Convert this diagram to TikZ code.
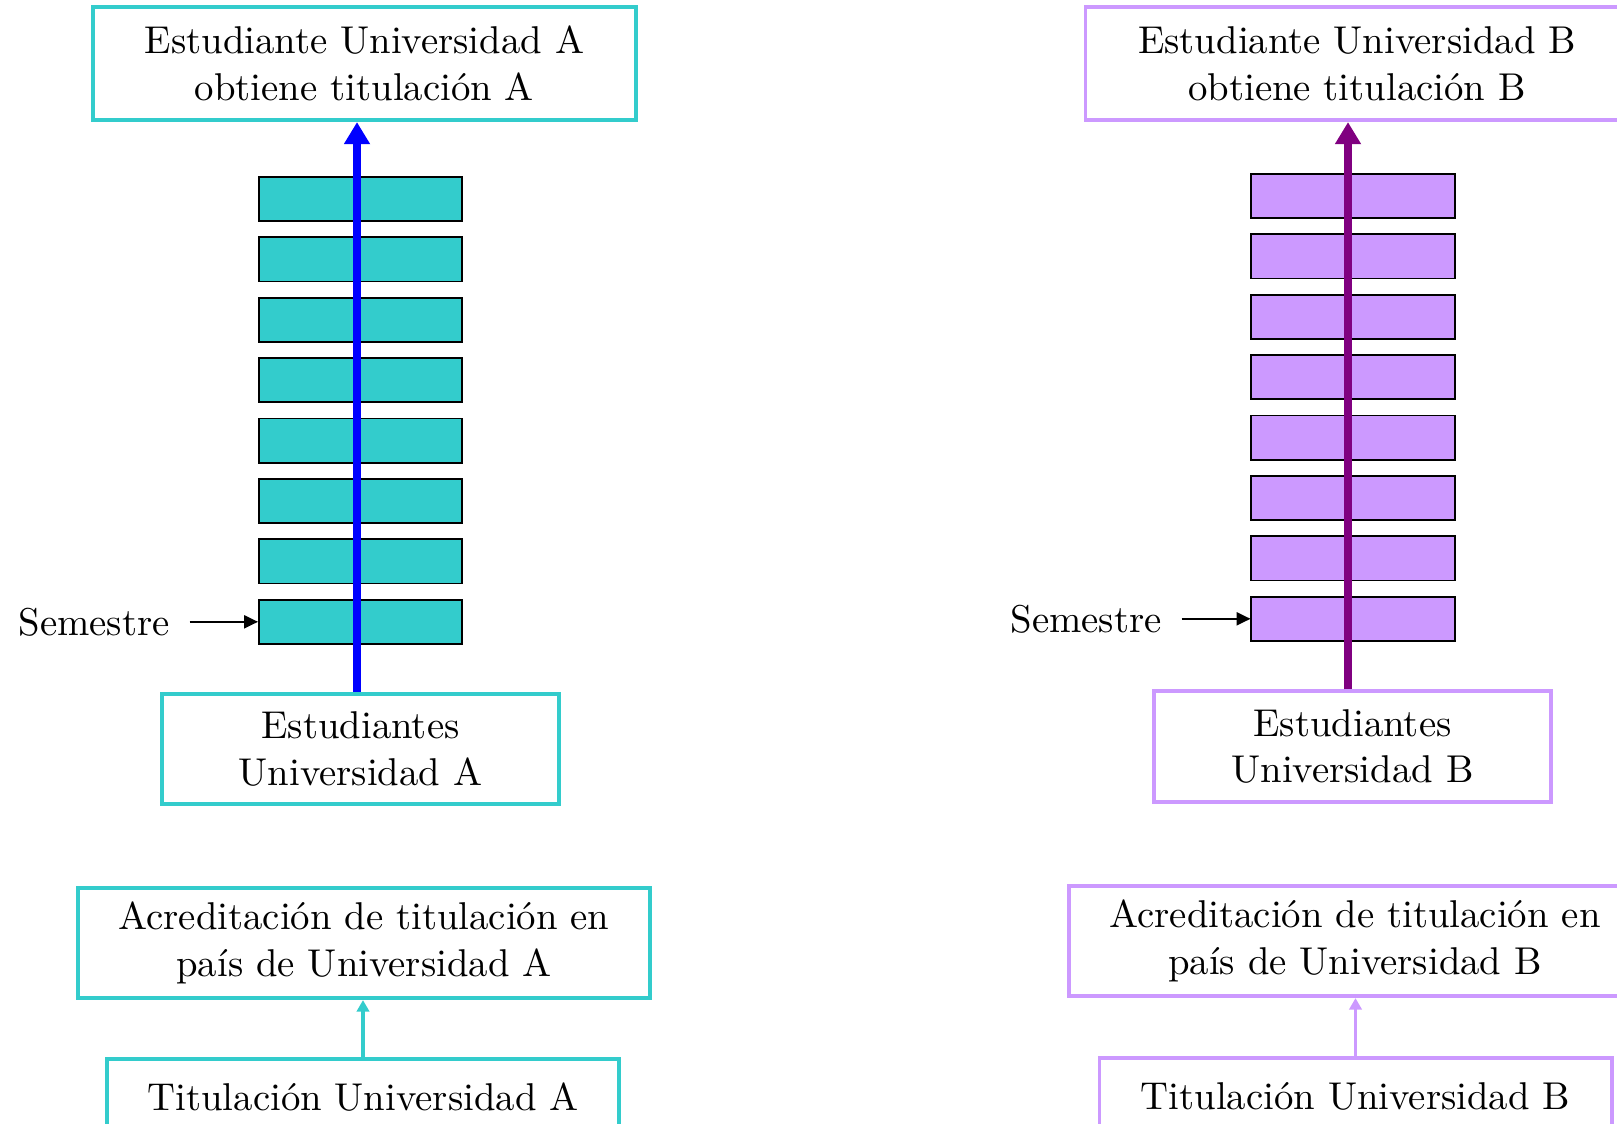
\documentclass[tikz,border=0pt]{standalone}
\usepackage{xcolor}
\usepackage{tikz}
\usetikzlibrary{shapes,arrows}
\usetikzlibrary{arrows.meta}

\definecolor{unicyan}{RGB}{51,204,204}
\definecolor{unililac}{RGB}{204,153,255}
\definecolor{uniplum}{RGB}{128,0,128}

\begin{document}
\begin{tikzpicture}[x=0.258pt, y=-0.258pt]
\tikzstyle{txt}=[align=center, inner sep=0pt, font=\fontsize{10}{12}\selectfont]
\tikzstyle{aborder}=[txt, draw=unicyan, line width=1.03pt]
\tikzstyle{bborder}=[txt, draw=unililac, line width=1.03pt]
\tikzstyle{topbox}=[minimum width=140.1pt, minimum height=29.2pt]
\tikzstyle{studbox}=[minimum width=102.4pt, minimum height=28.4pt]
\tikzstyle{accbox}=[minimum width=147.6pt, minimum height=28.4pt]
\tikzstyle{titbox}=[minimum width=132.1pt, minimum height=19.6pt]
\tikzstyle{sem}=[draw=black, line width=0.5pt, minimum width=52.4pt, minimum height=11.4pt, inner sep=0pt]
\tikzstyle{semA}=[sem, fill=unicyan]
\tikzstyle{semB}=[sem, fill=unililac]
\tikzstyle{semlabel}=[txt, inner sep=5pt]
\tikzstyle{pointer}=[draw=black, line width=0.4pt, -{Triangle[length=3.6pt, width=3.4pt]}]
\tikzstyle{pathA}=[draw=blue, line width=2pt, -{Triangle[length=5.7pt, width=6.4pt]}]
\tikzstyle{pathB}=[draw=uniplum, line width=2pt, -{Triangle[length=5.7pt, width=6.4pt]}]
\tikzstyle{linkA}=[draw=unicyan, line width=0.9pt, -{Triangle[length=3pt, width=3.2pt]}]
\tikzstyle{linkB}=[draw=unililac, line width=0.9pt, -{Triangle[length=3pt, width=3.2pt]}]

\useasboundingbox (0,0) rectangle (1617,1123);

% University A
\node[aborder, topbox] (topA) at (364.5, 63.5) {Estudiante Universidad A\\obtiene titulación A};
\node[aborder, studbox] (estA) at (360.5, 749) {Estudiantes\\Universidad A};
\node[aborder, accbox] (acrA) at (364, 943) {Acreditación de titulación en\\país de Universidad A};
\node[aborder, titbox] (titA) at (363, 1097) {Titulación Universidad A};

\node[semA] (semA1) at (360.5, 199) {};
\node[semA] (semA2) at (360.5, 259.4) {};
\node[semA] (semA3) at (360.5, 319.8) {};
\node[semA] (semA4) at (360.5, 380.2) {};
\node[semA] (semA5) at (360.5, 440.6) {};
\node[semA] (semA6) at (360.5, 501) {};
\node[semA] (semA7) at (360.5, 561.4) {};
\node[semA] (semA8) at (360.5, 621.8) {};
\node[semlabel] (lblA) at (94, 621.8) {Semestre};

% University B
\node[bborder, topbox] (topB) at (1357, 63.5) {Estudiante Universidad B\\obtiene titulación B};
\node[bborder, studbox] (estB) at (1352.5, 746.5) {Estudiantes\\Universidad B};
\node[bborder, accbox] (acrB) at (1355, 941) {Acreditación de titulación en\\país de Universidad B};
\node[bborder, titbox] (titB) at (1355.5, 1096) {Titulación Universidad B};

\node[semB] (semB1) at (1353, 196) {};
\node[semB] (semB2) at (1353, 256.4) {};
\node[semB] (semB3) at (1353, 316.8) {};
\node[semB] (semB4) at (1353, 377.2) {};
\node[semB] (semB5) at (1353, 437.6) {};
\node[semB] (semB6) at (1353, 498) {};
\node[semB] (semB7) at (1353, 558.4) {};
\node[semB] (semB8) at (1353, 618.8) {};
\node[semlabel] (lblB) at (1086, 618.8) {Semestre};

% Arrows
\coordinate (axisA) at (357, 0);
\coordinate (axisB) at (1348, 0);
\path[pathA] (estA.north -| axisA) -- (topA.south -| axisA);
\path[pathB] (estB.north -| axisB) -- (topB.south -| axisB);
\path[pointer] (lblA.east) -- (semA8.west);
\path[pointer] (lblB.east) -- (semB8.west);
\path[linkA] (titA.north) -- (titA.north |- acrA.south);
\path[linkB] (titB.north) -- (titB.north |- acrB.south);
\end{tikzpicture}
\end{document}
